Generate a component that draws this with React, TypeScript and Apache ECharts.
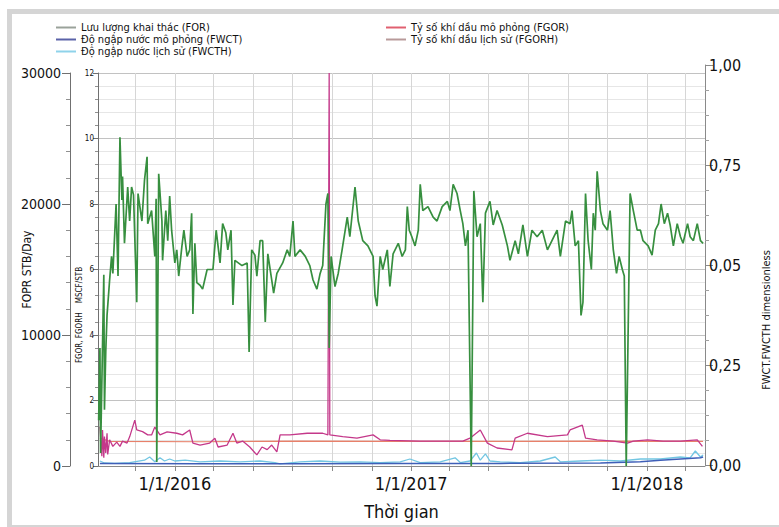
import React, { useEffect, useRef } from "react";
import * as echarts from "echarts";

// Time is given as days counted from 1/1/2016
const forDays = [-118, -116, -115, -113, -110, -109, -107, -105, -101, -98, -96, -91, -88, -85, -82, -81, -78, -73, -70, -67, -64, -59, -57, -51, -47, -43, -42, -36, -31, -29, -28, -25, -20, -19, -14, -11, -8, -5, 0, 3, 6, 11, 14, 19, 23, 26, 28, 31, 34, 39, 43, 50, 59, 64, 70, 74, 79, 82, 87, 90, 93, 104, 112, 115, 119, 124, 127, 132, 136, 140, 144, 150, 153, 158, 167, 174, 178, 183, 186, 194, 202, 209, 214, 220, 225, 229, 234, 237, 239, 242, 248, 253, 259, 267, 271, 279, 284, 291, 299, 307, 310, 313, 318, 322, 329, 333, 338, 346, 352, 357, 360, 363, 367, 372, 377, 380, 384, 392, 400, 406, 414, 422, 426, 431, 437, 442, 446, 450, 454, 459, 463, 468, 473, 477, 481, 488, 493, 499, 507, 515, 519, 527, 532, 539, 546, 553, 561, 569, 577, 584, 592, 597, 605, 612, 615, 620, 625, 629, 632, 636, 640, 645, 648, 651, 654, 659, 663, 670, 674, 679, 684, 688, 693, 696, 699, 705, 710, 716, 721, 725, 733, 739, 744, 749, 753, 758, 763, 767, 772, 778, 783, 787, 794, 798, 803, 809, 814, 818];
const forValues = [3500, 9000, 1000, 6500, 14600, 4300, 8700, 11500, 14200, 16000, 14700, 20000, 14500, 25100, 20300, 22100, 17000, 21300, 18700, 21300, 20700, 12500, 20800, 18700, 21800, 23600, 18500, 19500, 16000, 20400, 300, 22300, 18700, 15700, 19500, 17200, 20600, 18000, 15500, 16500, 14500, 16800, 18000, 16000, 16500, 19300, 11600, 17000, 14000, 13800, 13500, 15000, 15000, 18000, 15500, 18500, 17800, 16500, 18000, 12300, 15700, 15300, 15500, 8700, 16500, 16100, 14500, 17200, 17200, 11000, 16200, 14200, 13200, 14700, 15500, 16500, 16000, 18700, 16000, 16500, 16000, 15300, 14200, 13500, 14700, 15300, 20000, 20800, 9000, 16000, 13700, 14700, 16500, 19000, 17500, 21300, 18700, 17200, 16800, 16000, 13000, 12200, 16000, 15000, 16500, 13700, 16200, 17000, 16000, 16500, 19800, 18000, 17500, 16800, 18000, 21500, 19500, 19800, 19000, 18700, 19800, 20200, 19500, 21500, 20800, 19500, 18500, 16800, 18000, 0, 21000, 17500, 18500, 12500, 19300, 20200, 18400, 19500, 18400, 16800, 15700, 17200, 16200, 18400, 16000, 18000, 17500, 18000, 16500, 17200, 18000, 16000, 18700, 18500, 19500, 16800, 17200, 11500, 12500, 20800, 17200, 15000, 19300, 18000, 22500, 19500, 18500, 18000, 19500, 16500, 14700, 16000, 15000, 14500, 0, 20800, 19500, 18000, 18000, 17200, 16800, 16100, 18000, 18500, 20000, 18500, 19300, 18400, 16800, 18500, 17500, 17000, 18500, 17500, 17200, 18500, 17200, 17000];

const fgorDays = [-116, -113, -112, -110, -109, -107, -105, -104, -101, -96, -90, -85, -81, -74, -70, -62, -59, -50, -42, -36, -31, -23, -12, 3, 12, 23, 28, 39, 54, 62, 67, 81, 90, 96, 105, 116, 127, 135, 143, 150, 158, 163, 178, 205, 229, 237, 239, 240, 260, 282, 307, 318, 333, 380, 446, 457, 473, 484, 499, 522, 527, 546, 577, 608, 612, 631, 636, 654, 679, 701, 710, 732, 756, 783, 809, 817];
const fgorValues = [1.2, 0.3, 1.1, 0.25, 0.9, 0.4, 1.0, 0.35, 0.8, 0.6, 0.73, 0.6, 0.76, 0.7, 0.89, 1.4, 1.1, 1.05, 0.95, 0.95, 1.19, 0.95, 1.04, 1.0, 0.95, 1.1, 0.7, 0.64, 0.7, 0.85, 0.58, 0.64, 1.0, 0.7, 0.76, 0.58, 0.34, 0.58, 0.5, 0.64, 0.43, 0.95, 0.95, 1.0, 1.0, 0.95, 12, 0.95, 0.9, 0.85, 0.95, 0.8, 0.78, 0.76, 0.76, 0.85, 1.1, 0.7, 0.55, 0.49, 0.85, 1.0, 0.9, 0.95, 1.1, 1.25, 0.85, 0.8, 0.76, 0.7, 0.76, 0.8, 0.76, 0.76, 0.8, 0.6];

const fgorhDays = [-116, -101, 39, 194, 349, 504, 659, 818];
const fgorhValues = [0.85, 0.75, 0.74, 0.76, 0.75, 0.75, 0.76, 0.75];

const fwctDays = [-116, 39, 194, 349, 504, 659, 721, 752, 783, 814, 818];
const fwctValues = [0.004, 0.003, 0.003, 0.004, 0.004, 0.005, 0.008, 0.012, 0.015, 0.018, 0.02];

const fwcthDays = [-116, -109, -93, -70, -47, -39, -31, -23, -16, -8, 0, 16, 39, 70, 101, 132, 155, 163, 194, 225, 256, 287, 318, 349, 364, 380, 411, 434, 442, 457, 467, 473, 481, 488, 504, 535, 566, 589, 597, 628, 659, 690, 721, 752, 783, 798, 806, 814, 818];
const fwcthValues = [0.01, 0.005, 0.004, 0.006, 0.012, 0.02, 0.008, 0.018, 0.01, 0.015, 0.01, 0.012, 0.008, 0.01, 0.008, 0.01, 0.006, 0.003, 0.008, 0.01, 0.007, 0.008, 0.006, 0.008, 0.015, 0.006, 0.008, 0.018, 0.006, 0.01, 0.03, 0.012, 0.028, 0.01, 0.008, 0.006, 0.01, 0.02, 0.008, 0.01, 0.012, 0.01, 0.015, 0.015, 0.02, 0.018, 0.035, 0.02, 0.025];

const rightTickLabels: Record<string, string> = { "0": "0,00", "0.25": "0,25", "0.5": "0,05", "0.75": "0,75", "1": "1,00" };

const NAMES = {
  FOR: "Lưu lượng khai thác (FOR)",
  FWCT: "Độ ngập nước mô phỏng (FWCT)",
  FWCTH: "Độ ngập nước lịch sử (FWCTH)",
  FGOR: "Tỷ số khí dầu mô phỏng (FGOR)",
  FGORH: "Tỷ số khí dầu lịch sử (FGORH)",
};

const FONT = "'DejaVu Sans Condensed', 'Liberation Sans', sans-serif";

const toTime = (d: number) => new Date(2016, 0, 1 + d).getTime();
const pairs = (days: number[], vals: number[]) => days.map((d, i) => [toTime(d), vals[i]]);

export default function App() {
  const ref = useRef<HTMLDivElement>(null);
  useEffect(() => {
    document.body.style.margin = "0";
    const chart = echarts.init(ref.current!, null, { renderer: "svg" });
    const xMin = toTime(-119);
    const xMax = toTime(821);
    const lineSeries = (name: string, data: any[], color: string, xi: number, yi: number, width = 1.3, z = 2) => ({
      type: "line",
      name,
      data,
      xAxisIndex: xi,
      yAxisIndex: yi,
      symbol: "none",
      color,
      lineStyle: { color, width },
      z,
    });
    chart.setOption({
      animation: false,
      backgroundColor: "#ffffff",
      textStyle: { fontFamily: FONT, color: "#111" },
      grid: [
        { left: 98, right: 74, top: 73, bottom: 61, outerBoundsMode: "none" },
        { left: 98, right: 74, top: 65, bottom: 62, outerBoundsMode: "none" },
      ],
      legend: [
        {
          left: 56, top: 22, orient: "vertical", padding: 0, itemGap: 1, itemWidth: 20, itemHeight: 2, icon: "rect",
          textStyle: { fontSize: 11, color: "#111", fontFamily: FONT },
          data: [
            { name: NAMES.FOR, itemStyle: { color: "#9aa29a" } },
            { name: NAMES.FWCT, itemStyle: { color: "#5a62a8" } },
            { name: NAMES.FWCTH, itemStyle: { color: "#8fd3ea" } },
          ],
        },
        {
          left: 386, top: 22, orient: "vertical", padding: 0, itemGap: 1, itemWidth: 20, itemHeight: 2, icon: "rect",
          textStyle: { fontSize: 11, color: "#111", fontFamily: FONT },
          data: [
            { name: NAMES.FGOR, itemStyle: { color: "#e06070" } },
            { name: NAMES.FGORH, itemStyle: { color: "#b89a9a" } },
          ],
        },
      ],
      xAxis: [
        {
          type: "time", gridIndex: 0, min: xMin, max: xMax, splitNumber: 13,
          axisLine: { show: true, lineStyle: { color: "#8a8a8a", width: 1 } },
          axisTick: { show: true, length: 5, lineStyle: { color: "#8a8a8a" } },
          splitLine: { show: true, lineStyle: { color: "#d6d6d6", width: 1 } },
          axisLabel: {
            fontSize: 18, color: "#111", fontFamily: FONT, margin: 8, hideOverlap: false,
            formatter: (v: number) => {
              const d = new Date(v);
              return d.getMonth() === 0 && d.getDate() === 1 ? `1/1/${d.getFullYear()}` : "";
            },
          },
          name: "Thời gian", nameLocation: "middle", nameGap: 36, nameMoveOverlap: false,
          nameTextStyle: { fontSize: 18, color: "#111", fontFamily: FONT },
        },
        { type: "time", gridIndex: 1, min: xMin, max: xMax, show: false },
      ],
      yAxis: [
        {
          type: "value", gridIndex: 0, position: "left", offset: 28, min: 0, max: 30000, interval: 10000,
          axisLine: { show: true, lineStyle: { color: "#707070" } },
          axisTick: { show: true, length: 8, lineStyle: { color: "#707070" } },
          minorTick: { show: true, splitNumber: 5, length: 4, lineStyle: { color: "#909090" } },
          splitLine: { show: false },
          axisLabel: { fontSize: 14, color: "#111", fontFamily: FONT, margin: 9, formatter: (v: number) => String(v) },
          name: "FOPR STB/Day", nameLocation: "middle", nameGap: 37, nameMoveOverlap: false,
          nameTextStyle: { fontSize: 12, color: "#111", fontFamily: FONT },
        },
        {
          type: "value", gridIndex: 0, position: "left", offset: 0, min: 0, max: 12, interval: 2,
          axisLine: { show: true, lineStyle: { color: "#707070" } },
          axisTick: { show: true, length: 5, lineStyle: { color: "#707070" } },
          minorTick: { show: true, splitNumber: 5, length: 3, lineStyle: { color: "#909090" } },
          splitLine: { show: true, lineStyle: { color: "#c2c2c2" } },
          minorSplitLine: { show: true, lineStyle: { color: "#e6e6e6" } },
          axisLabel: { fontSize: 8, color: "#111", fontFamily: FONT, margin: 4 },
        },
        {
          type: "value", gridIndex: 1, position: "right", min: 0, max: 1, interval: 0.25,
          axisLine: { show: true, lineStyle: { color: "#8a8a8a" } },
          axisTick: { show: true, length: 8, lineStyle: { color: "#8a8a8a" } },
          minorTick: { show: true, splitNumber: 4, length: 4, lineStyle: { color: "#a0a0a0" } },
          splitLine: { show: false },
          axisLabel: {
            fontSize: 16, color: "#111", fontFamily: FONT, margin: 4,
            formatter: (v: number) => rightTickLabels[String(v)] ?? String(v),
          },
        },
      ],
      graphic: [
        {
          type: "rect", silent: true, z: -10,
          shape: { x: 9.5, y: 11.5, width: 780, height: 516 },
          style: { fill: "none", stroke: "#d5d5d5", lineWidth: 5 },
        },
        {
          type: "text", x: 79, y: 315, rotation: Math.PI / 2,
          style: { text: "FGOR, FGORH    MSCF/STB", fontSize: 8, fill: "#111", fontFamily: FONT, textAlign: "center", textVerticalAlign: "middle" },
        },
        {
          type: "text", x: 766, y: 320, rotation: Math.PI / 2,
          style: { text: "FWCT.FWCTH dimensionless", fontSize: 11, fill: "#111", fontFamily: FONT, textAlign: "center", textVerticalAlign: "middle" },
        },
      ],
      series: [
        lineSeries(NAMES.FGORH, pairs(fgorhDays, fgorhValues), "#e8806a", 0, 1, 1.2, 2),
        lineSeries(NAMES.FGOR, pairs(fgorDays, fgorValues), "#c4388a", 0, 1, 1.3, 3),
        lineSeries(NAMES.FWCTH, pairs(fwcthDays, fwcthValues), "#72c6e2", 1, 2, 1.3, 4),
        lineSeries(NAMES.FWCT, pairs(fwctDays, fwctValues), "#3f5fb8", 1, 2, 1.5, 5),
        lineSeries(NAMES.FOR, pairs(forDays, forValues), "#378f3f", 0, 0, 1.7, 6),
      ],
    });
    return () => chart.dispose();
  }, []);
  return <div ref={ref} style={{ width: 779, height: 527 }} />;
}
